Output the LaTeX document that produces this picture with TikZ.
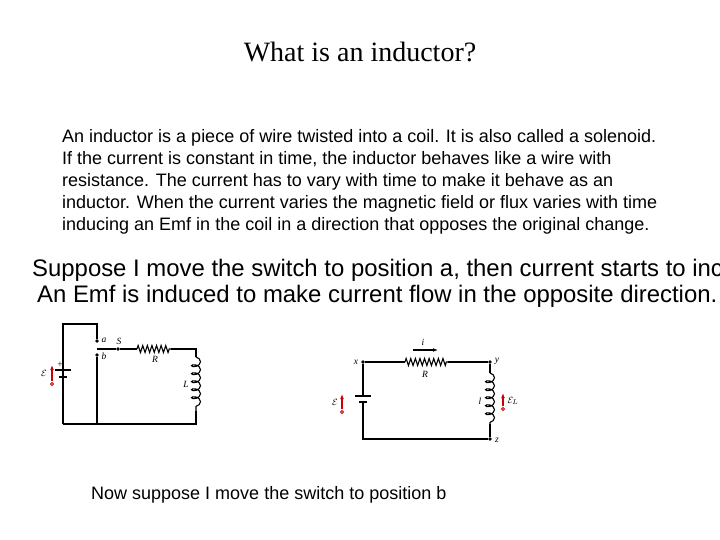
\documentclass[tikz,border=0pt]{standalone}
\usepackage{fontspec}
\setmainfont{Liberation Serif}
\newfontfamily\arial{Liberation Sans}
\usetikzlibrary{decorations.pathmorphing,arrows.meta}
\begin{document}
\begin{tikzpicture}[x=1pt,y=-1pt,
  wire/.style={line width=1.1pt},
  res/.style={wire,decorate,decoration={zigzag,segment length=4.6pt,amplitude=3.5pt}},
  coil/.style={wire,decorate,decoration={coil,aspect=0.6,segment length=8pt,amplitude=4.5pt}},
  dotn/.style={circle,fill,inner sep=1.4pt},
  lbl/.style={font=\itshape\fontsize{9.5}{10}\selectfont,inner sep=1pt},
  emf/.style={red!80!black,-{Latex[length=5pt]},line width=1.3pt},
  body/.style={font=\arial\fontsize{18}{22}\selectfont,align=left,anchor=north west,inner sep=0pt}]
\useasboundingbox (0,0) rectangle (720,540);
\node (title) at (360,52) {\fontsize{28}{30}\selectfont What is an inductor?};
\node[body] (para) at (62,129) {An inductor is a piece of wire twisted into a coil. It is also called a solenoid.\\If the current is constant in time, the inductor behaves like a wire with\\resistance. The current has to vary with time to make it behave as an\\inductor. When the current varies the magnetic field or flux varies with time\\inducing an Emf in the coil in a direction that opposes the original change.};
\node[font=\arial\fontsize{23.9}{26}\selectfont,anchor=west,inner sep=0pt] (s1) at (32,270) {Suppose I move the switch to position a, then current starts to inc};
\node[font=\arial\fontsize{23.9}{26}\selectfont,anchor=west,inner sep=0pt] (s2) at (37,296) {An Emf is induced to make current flow in the opposite direction.};
\node[font=\arial\fontsize{18}{20}\selectfont,anchor=west,inner sep=0pt] (s3) at (91,495) {Now suppose I move the switch to position b};
% left circuit
\coordinate (tl) at (63,324); \coordinate (tm) at (97,324); \coordinate (bl) at (63,424);
\coordinate (bm) at (97,424); \coordinate (br) at (196,424);
\node[dotn] (a) at (97,341) {}; \node[dotn] (b) at (97,355) {};
\node[dotn] (S) at (118,349) {};
\coordinate (sw) at (97,349);
\coordinate (r1) at (137,349); \coordinate (r2) at (171,349); \coordinate (rc) at (196,349);
\coordinate (l1) at (196,357); \coordinate (l2) at (196,411);
\draw[wire] (bl) -- (63,370) (63,377) -- (tl) -- (tm) -- (a);
\draw[wire] (b) -- (bm);
\draw[wire] (sw) -- (S) -- (r1);
\draw[res] (r1) -- (r2);
\draw[wire] (r2) -- (rc) -- (l1);
\draw[coil] (l1) -- (l2);
\draw[wire] (l2) -- (br) -- (bl);
\draw[wire] (55,370) -- (71,370); \draw[line width=2.4pt] (59,377) -- (67,377);
\node[lbl] (la) at (104,340) {a}; \node[lbl] (lb) at (104,356) {b};
\node[lbl] (lS) at (119,341) {S}; \node[lbl] (lR) at (155,359) {R}; \node[lbl] (lL) at (186,384) {L};
\node[lbl] (plus) at (60,365) {\upshape +};
\draw[emf] (52,381) -- (52,365); \draw[red!80!black,line width=0.9pt] (52,384) circle (1.6pt);
\node[lbl] (eL) at (44,373) {$\mathcal{E}$};
% right circuit
\node[dotn] (x) at (363,362) {}; \node[dotn] (y) at (490,362) {};
\node[dotn] (z) at (490,439) {};
\coordinate (xb) at (363,439);
\coordinate (q1) at (405,362); \coordinate (q2) at (448,362);
\coordinate (c1) at (490,373); \coordinate (c2) at (490,424);
\draw[wire] (x) -- (q1); \draw[res] (q1) -- (q2); \draw[wire] (q2) -- (y) -- (c1);
\draw[coil] (c1) -- (c2);
\draw[wire] (c2) -- (z) -- (xb) -- (363,402) (363,396) -- (x);
\draw[line width=2.4pt] (359,402) -- (367,402); \draw[wire] (355,396) -- (371,396);
\draw[-{Latex[length=5pt]},wire] (413,350) -- (438,350);
\node[lbl] (li) at (423,342) {i};
\node[lbl] (lx) at (356,362) {x}; \node[lbl] (ly) at (497,361) {y}; \node[lbl] (lz) at (497,440) {z};
\node[lbl] (lR2) at (425,374) {R}; \node[lbl] (lL2) at (480,401) {l};
\draw[emf] (342,409) -- (342,394); \draw[red!80!black,line width=0.9pt] (342,412) circle (1.6pt);
\node[lbl] (eE) at (335,402) {$\mathcal{E}$};
\draw[emf] (503,406) -- (503,393); \draw[red!80!black,line width=0.9pt] (503,409) circle (1.6pt);
\node[lbl] (eEL) at (513,401) {$\mathcal{E}_L$};
\end{tikzpicture}
\end{document}
